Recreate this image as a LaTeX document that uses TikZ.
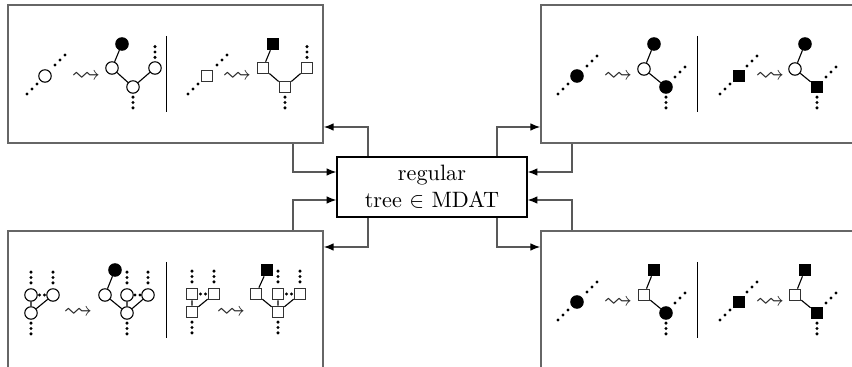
\documentclass[tikz,border=0pt]{standalone}
\usepackage{amssymb}
\usetikzlibrary{arrows.meta}

\tikzset{
  panel/.style={draw=black!60, line width=0.7pt, minimum width=141.75pt, minimum height=62.1pt, inner sep=0pt},
  hub/.style={draw=black, line width=0.5pt, minimum width=85.5pt, minimum height=27pt, align=center, inner sep=0pt},
  conn/.style={draw=black!65, line width=0.6pt, -{Latex[length=4.4pt,width=3.4pt,color=black]}},
  wc/.style={circle, draw, fill=white, line width=0.5pt, minimum size=5.6pt, inner sep=0pt},
  bc/.style={circle, draw, fill=black, line width=0.5pt, minimum size=5.6pt, inner sep=0pt},
  ws/.style={rectangle, draw=black!80, fill=white, line width=0.5pt, minimum size=5.2pt, inner sep=0pt},
  bs/.style={rectangle, draw, fill=black, line width=0.5pt, minimum size=5.2pt, inner sep=0pt},
  edge/.style={line width=0.5pt},
  sep/.style={line width=0.45pt},
  arrowsym/.style={inner sep=0pt, scale=1.3, text=black!85},
  vdots/.pic={\fill (0,-5.4) circle (1.7) (0,0) circle (1.7) (0,5.4) circle (1.7);},
  ddots/.pic={\fill (-5,5) circle (1.7) (0,0) circle (1.7) (5,-5) circle (1.7);},
  hdots/.pic={\fill (-2.5,0) circle (1.7) (2.5,0) circle (1.7);},
}

\begin{document}
\begin{tikzpicture}[x=0.45pt, y=-0.45pt]
\clip (0,0) rectangle (852,367);

% four panels and the central box
\node[panel] (tl) at (165.5,74) {};
\node[panel] (tr) at (698.5,74) {};
\node[panel] (bl) at (165.5,300) {};
\node[panel] (br) at (698.5,300) {};
\node[hub] (c) at (432,187) {regular\\tree $\in$ MDAT};

% routing columns and rows of the connectors
\coordinate (xa) at (293,0);
\coordinate (xb) at (368,0);
\coordinate (xc) at (497,0);
\coordinate (xd) at (572,0);
\coordinate (ya) at (0,127);
\coordinate (yb) at (0,172);
\coordinate (yc) at (0,200);
\coordinate (yd) at (0,247);

\draw[conn] (c.north -| xb) |- (tl.east |- ya);
\draw[conn] (tl.south -| xa) |- (c.west |- yb);
\draw[conn] (bl.north -| xa) |- (c.west |- yc);
\draw[conn] (c.south -| xb) |- (bl.east |- yd);
\draw[conn] (c.north -| xc) |- (tr.west |- ya);
\draw[conn] (tr.south -| xd) |- (c.east |- yb);
\draw[conn] (br.north -| xd) |- (c.east |- yc);
\draw[conn] (c.south -| xc) |- (br.west |- yd);

% ---------- top left panel ----------
\node[wc] (p1) at (45,76) {};
\pic at (32,89) {ddots};
\pic at (60,60) {ddots};
\node[arrowsym] (s1) at (86,77) {$\leadsto$};
\node[bc] (a0) at (122,44) {};
\node[wc] (a1) at (112,68) {};
\node[wc] (a2) at (133,87) {};
\node[wc] (a3) at (155,68) {};
\draw[edge] (a0) -- (a1) -- (a2) -- (a3);
\pic at (155,52) {vdots};
\pic at (133,102.5) {vdots};
\draw[sep] (167,36) -- (167,112);

\node[ws] (p2) at (207,76) {};
\pic at (193,89) {ddots};
\pic at (222,60) {ddots};
\node[arrowsym] (s2) at (237,77) {$\leadsto$};
\node[bs] (b0) at (273,44) {};
\node[ws] (b1) at (263,68) {};
\node[ws] (b2) at (285,87) {};
\node[ws] (b3) at (307,68) {};
\draw[edge] (b0) -- (b1) -- (b2) -- (b3);
\pic at (307,52) {vdots};
\pic at (285,102.5) {vdots};

% ---------- top right panel ----------
\node[bc] (p3) at (577,76) {};
\pic at (563,89) {ddots};
\pic at (592,61) {ddots};
\node[arrowsym] (s3) at (618,77) {$\leadsto$};
\node[bc] (c0) at (654,44) {};
\node[wc] (c1) at (644,69) {};
\node[bc] (c2) at (666,87) {};
\draw[edge] (c0) -- (c1) -- (c2);
\pic at (680,72) {ddots};
\pic at (666,102.5) {vdots};
\draw[sep] (698,36) -- (698,112);

\node[bs] (p4) at (739,76) {};
\pic at (725,89) {ddots};
\pic at (752,61) {ddots};
\node[arrowsym] (s4) at (770,77) {$\leadsto$};
\node[bc] (d0) at (805,44) {};
\node[wc] (d1) at (795,69) {};
\node[bs] (d2) at (817,87) {};
\draw[edge] (d0) -- (d1) -- (d2);
\pic at (831,72) {ddots};
\pic at (817,102.5) {vdots};

% ---------- bottom right panel ----------
\node[bc] (p5) at (577,302) {};
\pic at (563,315) {ddots};
\pic at (592,287) {ddots};
\node[arrowsym] (s5) at (618,303) {$\leadsto$};
\node[bs] (e0) at (654,270) {};
\node[ws] (e1) at (644,295) {};
\node[bc] (e2) at (666,313) {};
\draw[edge] (e0) -- (e1) -- (e2);
\pic at (680,298) {ddots};
\pic at (666,328.5) {vdots};
\draw[sep] (698,262) -- (698,338);

\node[bs] (p6) at (739,302) {};
\pic at (725,315) {ddots};
\pic at (752,287) {ddots};
\node[arrowsym] (s6) at (770,303) {$\leadsto$};
\node[bs] (f0) at (805,270) {};
\node[ws] (f1) at (795,295) {};
\node[bs] (f2) at (817,313) {};
\draw[edge] (f0) -- (f1) -- (f2);
\pic at (831,298) {ddots};
\pic at (817,328.5) {vdots};

% ---------- bottom left panel ----------
\node[wc] (g1) at (31,295) {};
\node[wc] (g2) at (53,295) {};
\node[wc] (g3) at (31,313) {};
\draw[edge] (g1) -- (g3) -- (g2);
\pic at (42,295) {hdots};
\pic at (31,277.5) {vdots};
\pic at (53,277.5) {vdots};
\pic at (31,328.5) {vdots};
\node[arrowsym] (s7) at (78,313) {$\leadsto$};
\node[bc] (h0) at (115,270) {};
\node[wc] (h1) at (105,295) {};
\node[wc] (h2) at (127,295) {};
\node[wc] (h3) at (148,295) {};
\node[wc] (h4) at (127,313) {};
\draw[edge] (h0) -- (h1) -- (h4);
\draw[edge] (h2) -- (h4) -- (h3);
\pic at (137.5,295) {hdots};
\pic at (127,277.5) {vdots};
\pic at (148,277.5) {vdots};
\pic at (127,328.5) {vdots};
\draw[sep] (167,262) -- (167,338);

\node[ws] (k1) at (192,294) {};
\node[ws] (k2) at (214,294) {};
\node[ws] (k3) at (192,312) {};
\draw[edge] (k1) -- (k3) -- (k2);
\pic at (203,294) {hdots};
\pic at (192,276.5) {vdots};
\pic at (214,276.5) {vdots};
\pic at (192,327.5) {vdots};
\node[arrowsym] (s8) at (231,313) {$\leadsto$};
\node[bs] (m0) at (267,270) {};
\node[ws] (m1) at (256,294) {};
\node[ws] (m2) at (278,294) {};
\node[ws] (m3) at (300,294) {};
\node[ws] (m4) at (278,312) {};
\draw[edge] (m0) -- (m1) -- (m4);
\draw[edge] (m2) -- (m4) -- (m3);
\pic at (289,294) {hdots};
\pic at (278,276.5) {vdots};
\pic at (300,276.5) {vdots};
\pic at (278,327.5) {vdots};
\end{tikzpicture}
\end{document}
